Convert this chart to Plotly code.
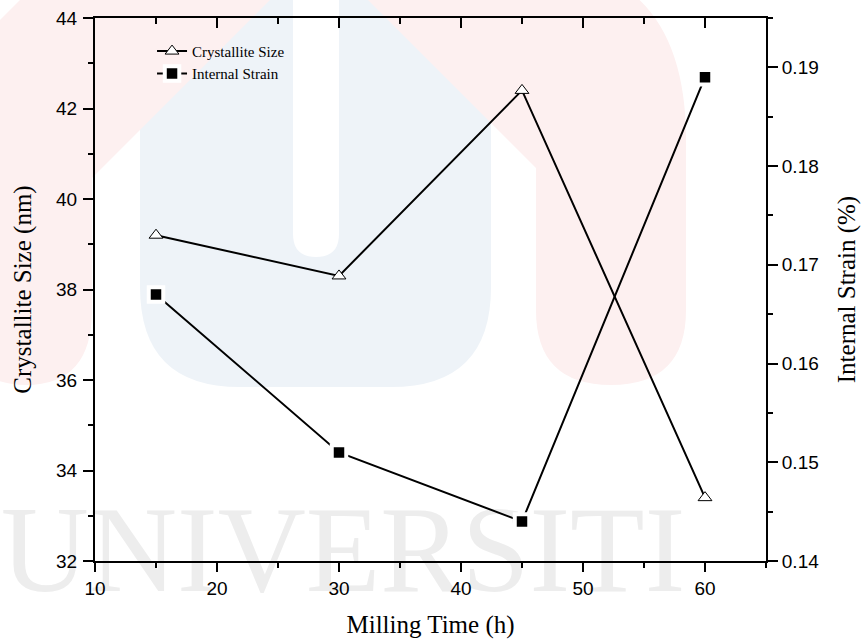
import plotly.graph_objects as go

# Milling study: crystallite size and internal strain versus milling time
milling_time = [15, 30, 45, 60]
crystallite_size = [39.2, 38.3, 42.4, 33.4]      # nm
internal_strain = [0.167, 0.151, 0.144, 0.189]   # %

x_ticks = [10, 20, 30, 40, 50, 60]
size_ticks = [32, 34, 36, 38, 40, 42, 44]
strain_ticks = [0.14, 0.15, 0.16, 0.17, 0.18, 0.19]

W, H = 862, 640
ML, MR, MT, MB = 95, 96, 18, 79
PW, PH = W - ML - MR, H - MT - MB

SANS = "Liberation Sans, Arial, sans-serif"
SERIF = "Liberation Serif, Times New Roman, serif"


def to_paper(px, py):
    return (px - ML) / PW, (H - MB - py) / PH


def path(cmds):
    """Build an SVG path in paper units from pixel-space commands."""
    out = []
    for c in cmds:
        op, pts = c[0], c[1:]
        seg = op
        for (px, py) in pts:
            x, y = to_paper(px, py)
            seg += f" {x:.4f},{y:.4f}"
        out.append(seg)
    return " ".join(out)


# faint background emblem
blue_u = path([
    ("M", (140, -10)), ("L", (491, -10)), ("L", (491, 287)),
    ("Q", (491, 387), (391, 387)), ("L", (240, 387)),
    ("Q", (140, 387), (140, 287)), ("Z",),
])
pink_arch = path([
    ("M", (60, -40)), ("L", (520, -40)), ("Q", (686, -40), (686, 140)),
    ("L", (686, 310)), ("Q", (686, 385), (611, 385)), ("Q", (536, 385), (536, 310)),
    ("L", (536, 168)), ("L", (319, -49)), ("L", (92, 178)), ("L", (92, 310)),
    ("Q", (92, 385), (26, 385)), ("Q", (-40, 385), (-40, 310)), ("L", (-40, 60)), ("Z",),
])
white_stripe = path([
    ("M", (293, -10)), ("L", (339, -10)), ("L", (339, 234)),
    ("Q", (339, 257), (316, 257)), ("Q", (293, 257), (293, 234)), ("Z",),
])

shapes = [
    dict(type="path", path=blue_u, xref="paper", yref="paper", layer="below",
         fillcolor="#eef3f8", line=dict(width=0)),
    dict(type="path", path=pink_arch, xref="paper", yref="paper", layer="below",
         fillcolor="#fdf0f0", line=dict(width=0)),
    dict(type="path", path=white_stripe, xref="paper", yref="paper", layer="below",
         fillcolor="#ffffff", line=dict(width=0)),
]

fig = go.Figure()

# watermark lettering, kept underneath the data lines
# (anchor stays inside the axis range so the unclipped text is still drawn)
fig.add_trace(go.Scatter(
    x=[30.33], y=[32.02], mode="text", text=["UNIVERSITI"],
    textfont=dict(family=SERIF, size=122, color="#ededed"),
    textposition="middle center", cliponaxis=False,
    showlegend=False, hoverinfo="skip",
))

fig.add_trace(go.Scatter(
    x=milling_time, y=crystallite_size, name="Crystallite Size",
    mode="lines+markers", cliponaxis=False,
    line=dict(color="black", width=2),
    marker=dict(symbol="triangle-up", size=12, color="white",
                line=dict(color="black", width=1)),
))
# strain uses the top (mirror) time axis and the right-hand axis
fig.add_trace(go.Scatter(
    x=milling_time, y=internal_strain, name="Internal Strain",
    mode="lines+markers", xaxis="x2", yaxis="y2", cliponaxis=False,
    line=dict(color="black", width=2),
    marker=dict(symbol="square", size=14.5, color="black",
                line=dict(color="white", width=4)),
))

axis_common = dict(
    showgrid=False, zeroline=False, showline=True, linecolor="black",
    linewidth=2, tickcolor="black", tickwidth=2, automargin=False,
    tickfont=dict(family=SANS, size=19, color="black"),
)

fig.update_layout(
    width=W, height=H,
    margin=dict(l=ML, r=MR, t=MT, b=MB, pad=0, autoexpand=False),
    paper_bgcolor="white", plot_bgcolor="rgba(0,0,0,0)",
    shapes=shapes,
    showlegend=True,
    legend=dict(
        x=0.085, y=0.969, xanchor="left", yanchor="top",
        bgcolor="rgba(0,0,0,0)", borderwidth=0,
        font=dict(family=SERIF, size=15, color="black"),
        tracegroupgap=0,
    ),
    xaxis=dict(
        **axis_common, range=[10, 65], tickvals=x_ticks, ticks="outside",
        ticklen=9, minor=dict(ticks="outside", ticklen=5, dtick=5, tick0=10,
                              tickcolor="black", tickwidth=2),
        title=dict(text="Milling Time (h)", standoff=18,
                   font=dict(family=SERIF, size=25, color="black")),
    ),
    xaxis2=dict(
        showgrid=False, zeroline=False, showline=True, linecolor="black",
        linewidth=2, overlaying="x", side="top", anchor="y2", automargin=False,
        range=[10, 65], tickvals=x_ticks, ticks="inside", ticklen=10,
        tickcolor="black", tickwidth=2, showticklabels=False,
        minor=dict(ticks="inside", ticklen=6, dtick=5, tick0=10,
                   tickcolor="black", tickwidth=2),
    ),
    yaxis=dict(
        **axis_common, range=[32, 44], tickvals=size_ticks, ticks="outside",
        ticklen=10, ticklabelstandoff=2,
        minor=dict(ticks="outside", ticklen=5, dtick=1, tick0=32,
                   tickcolor="black", tickwidth=2),
        title=dict(text="Crystallite Size (nm)", standoff=17,
                   font=dict(family=SERIF, size=25, color="black")),
    ),
    yaxis2=dict(
        **axis_common, range=[0.14, 0.195], tickvals=strain_ticks,
        ticktext=[f"{v:.2f}" for v in strain_ticks],
        overlaying="y", side="right", anchor="x2", ticks="outside",
        ticklen=10, minor=dict(ticks="outside", ticklen=5, dtick=0.005, tick0=0.14,
                               tickcolor="black", tickwidth=2),
        title=dict(text="Internal Strain (%)", standoff=19,
                   font=dict(family=SERIF, size=25, color="black")),
    ),
)

fig.write_html("out.html")
